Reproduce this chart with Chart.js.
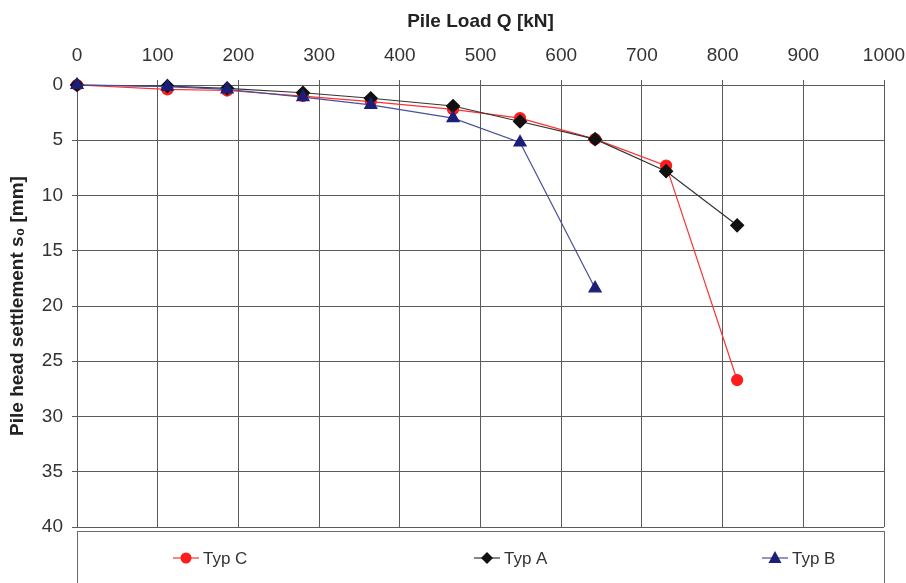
<!DOCTYPE html>
<html>
<head>
<meta charset="utf-8">
<script src="https://cdn.jsdelivr.net/npm/chart.js@4.4.0/dist/chart.umd.min.js"></script>
<style>
  html, body { margin: 0; padding: 0; background: #fff; }
  #wrap { position: relative; width: 906px; height: 583px; overflow: hidden; }
</style>
</head>
<body>
<div id="wrap"><canvas id="chart" width="906" height="583"></canvas></div>
<script>
// Load steps [kN] and pile head settlement [mm]
const loads = [0, 112, 186, 280, 364, 466, 549, 642, 730, 818];
const typC = [0, 0.4, 0.5, 1.0, 1.5, 2.2, 3.0, 4.9, 7.3, 26.7];
const typA = [0, 0.1, 0.3, 0.7, 1.2, 1.9, 3.3, 4.9, 7.8, 12.7];
const typB = [0, 0.15, 0.4, 1.1, 1.8, 3.0, 5.2, 18.4];

const xTicks = [0, 100, 200, 300, 400, 500, 600, 700, 800, 900, 1000];
const yTicks = [0, 5, 10, 15, 20, 25, 30, 35, 40];

const FONT = "'Liberation Sans', Arial, sans-serif";
const GRID = "#5a5a5a";

function pts(xs, ys) {
  return ys.map((y, i) => ({ x: xs[i], y: y }));
}

const series = [
  { label: "Typ C", data: pts(loads, typC), color: "#ff1c1c", line: "#ff3030", style: "circle", radius: 5.5, order: 2 },
  { label: "Typ A", data: pts(loads, typA), color: "#111111", line: "#333333", style: "rectRot", radius: 6.5, order: 1 },
  { label: "Typ B", data: pts(loads, typB), color: "#1c1f78", line: "#4a4f9c", style: "triangle", radius: 7, order: 0 },
];

// Boxed legend underneath the plot, like the original figure
const legendBox = {
  id: "legendBox",
  afterDraw(chart) {
    const ctx = chart.ctx;
    const area = chart.chartArea;
    ctx.save();
    ctx.strokeStyle = "#6a6a6a";
    ctx.lineWidth = 1;
    ctx.strokeRect(area.left + 0.5, 531.5, area.right - area.left, 70);
    const centers = [186, 487, 775];
    const y = 558;
    ctx.font = "17px " + FONT;
    ctx.textBaseline = "middle";
    ctx.textAlign = "left";
    series.forEach((s, i) => {
      const cx = centers[i];
      ctx.strokeStyle = s.line;
      ctx.lineWidth = 1.2;
      ctx.beginPath();
      ctx.moveTo(cx - 13, y);
      ctx.lineTo(cx + 13, y);
      ctx.stroke();
      ctx.fillStyle = s.color;
      ctx.beginPath();
      if (s.style === "circle") ctx.arc(cx, y, 5.5, 0, Math.PI * 2);
      else if (s.style === "rectRot") { ctx.moveTo(cx, y - 6); ctx.lineTo(cx + 6, y); ctx.lineTo(cx, y + 6); ctx.lineTo(cx - 6, y); ctx.closePath(); }
      else { ctx.moveTo(cx, y - 7); ctx.lineTo(cx + 6.5, y + 5); ctx.lineTo(cx - 6.5, y + 5); ctx.closePath(); }
      ctx.fill();
      ctx.fillStyle = "#333";
      ctx.fillText(s.label, cx + 17, y + 1);
    });
    ctx.restore();
  }
};

new Chart(document.getElementById("chart"), {
  type: "line",
  data: {
    datasets: series.map(s => ({
      label: s.label,
      data: s.data,
      order: s.order,
      borderColor: s.line,
      borderWidth: 1.2,
      backgroundColor: s.color,
      pointBackgroundColor: s.color,
      pointBorderColor: s.color,
      pointStyle: s.style,
      pointRadius: s.radius,
      tension: 0,
      fill: false,
      clip: false,
    })),
  },
  options: {
    responsive: false,
    animation: false,
    devicePixelRatio: 1,
    layout: { padding: { top: 0, left: 0, right: 22, bottom: 56 } },
    plugins: {
      legend: { display: false },
      tooltip: { enabled: false },
    },
    scales: {
      x: {
        type: "linear",
        position: "top",
        min: 0,
        max: 1000,
        afterBuildTicks(scale) { scale.ticks = xTicks.map(v => ({ value: v })); },
        afterFit(scale) { scale.height = 85; scale.paddingLeft = 0; scale.paddingRight = 0; },
        ticks: { color: "#333", font: { family: FONT, size: 19 }, padding: 13, maxRotation: 0, callback: v => String(v) },
        grid: { color: GRID, lineWidth: 1, tickLength: 5, drawTicks: true },
        border: { color: GRID, width: 1 },
        title: {
          display: true,
          text: "Pile Load Q [kN]",
          color: "#222",
          font: { family: FONT, size: 19, weight: "bold" },
          padding: { top: 10, bottom: 0 },
        },
      },
      y: {
        type: "linear",
        reverse: true,
        min: 0,
        max: 40,
        afterBuildTicks(scale) { scale.ticks = yTicks.map(v => ({ value: v })); },
        afterFit(scale) { scale.width = 77; scale.paddingTop = 0; scale.paddingBottom = 0; },
        ticks: { color: "#333", font: { family: FONT, size: 19 }, padding: 9 },
        grid: { color: GRID, lineWidth: 1, tickLength: 5, drawTicks: true },
        border: { color: GRID, width: 1 },
        title: {
          display: true,
          text: "Pile head settlement s\u2080 [mm]",
          color: "#222",
          font: { family: FONT, size: 19, weight: "bold" },
          padding: { top: 6, bottom: 0 },
        },
      },
    },
  },
  plugins: [legendBox],
});
</script>
</body>
</html>
